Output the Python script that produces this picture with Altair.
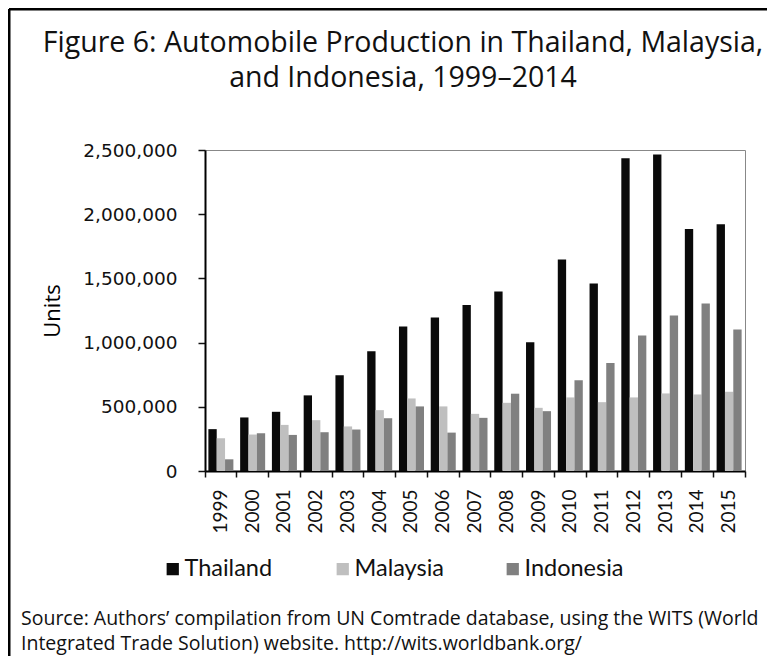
import altair as alt
import pandas as pd

years = [str(y) for y in range(1999, 2016)]
countries = ["Thailand", "Malaysia", "Indonesia"]
colors = ["#0a0a0a", "#bfbfbf", "#808080"]

thailand = [326000, 417000, 461000, 589000, 745000, 932000, 1125000, 1195000, 1292000,
            1398000, 1003000, 1648000, 1461000, 2435000, 2464000, 1885000, 1922000]
malaysia = [255000, 284000, 359000, 396000, 347000, 474000, 565000, 503000, 445000,
            531000, 492000, 573000, 536000, 573000, 604000, 596000, 617000]
indonesia = [91000, 294000, 281000, 302000, 323000, 411000, 503000, 299000, 414000,
             602000, 466000, 706000, 841000, 1055000, 1211000, 1305000, 1102000]

y_ticks = [0, 500000, 1000000, 1500000, 2000000, 2500000]

title_line1 = "Figure 6: Automobile Production in Thailand, Malaysia,"
title_line2 = "and Indonesia, 1999\u20132014"
source_lines = ["Source: Authors\u2019 compilation from UN Comtrade database, using the WITS (World",
                "Integrated Trade Solution) website. http://wits.worldbank.org/"]

rows = []
for i, yr in enumerate(years):
    for c, vals in zip(countries, [thailand, malaysia, indonesia]):
        rows.append({"year": yr, "country": c, "units": vals[i]})
df = pd.DataFrame(rows)

W, H = 540, 321

bars = alt.Chart(df).mark_bar().encode(
    x=alt.X("year:N", sort=years, title=None,
            scale=alt.Scale(paddingInner=0, paddingOuter=0),
            axis=alt.Axis(labelAngle=270, bandPosition=1, tickExtra=True,
                          labelFont="Lato", labelFontSize=19, labelColor="#111",
                          labelPadding=12, tickSize=6, tickColor="#111", tickWidth=1.5,
                          domainColor="#000", domainWidth=2)),
    xOffset=alt.XOffset("country:N", sort=countries,
                        scale=alt.Scale(paddingInner=0, paddingOuter=0.405)),
    y=alt.Y("units:Q", scale=alt.Scale(domain=[0, 2500000], nice=False),
            axis=alt.Axis(values=y_ticks, labelExpr="format(datum.value, ',')",
                          title="Units", grid=False,
                          labelFont="DejaVu Sans", labelFontSize=18.5, labelColor="#111",
                          labelPadding=21, tickSize=7, tickColor="#111", tickWidth=1.5,
                          domainColor="#000", domainWidth=2,
                          titleFont="Open Sans", titleFontSize=22, titleFontWeight="normal",
                          titleColor="#000", titlePadding=18)),
    color=alt.Color("country:N", sort=countries,
                    scale=alt.Scale(domain=countries, range=colors),
                    legend=alt.Legend(title=None, orient="none", legendX=-44, legendY=407,
                                      direction="horizontal", symbolType="square",
                                      symbolSize=150, symbolStrokeWidth=0,
                                      labelFont="Lato", labelFontSize=23.5, labelColor="#111",
                                      labelOffset=0, columnPadding=47, gridAlign="all",
                                      padding=0)),
)

edge = pd.DataFrame({"k": [0]})
border_left = alt.Chart(edge).mark_rule(color="#000", strokeWidth=3).encode(
    x=alt.value(-196), y=alt.value(-141), y2=alt.value(540))
border_top = alt.Chart(edge).mark_rule(color="#000", strokeWidth=3).encode(
    x=alt.value(-196), x2=alt.value(600), y=alt.value(-141))

title1 = alt.Chart(pd.DataFrame({"t": [title_line1]})).mark_text(
    align="center", baseline="alphabetic", font="Open Sans", fontSize=28.5, color="#111"
).encode(x=alt.value(198), y=alt.value(-98), text="t:N")
title2 = alt.Chart(pd.DataFrame({"t": [title_line2]})).mark_text(
    align="center", baseline="alphabetic", font="Open Sans", fontSize=28.5, color="#111"
).encode(x=alt.value(198), y=alt.value(-63), text="t:N")

source = alt.Chart(pd.DataFrame({"t": ["\n".join(source_lines)]})).mark_text(
    align="left", baseline="alphabetic", font="Open Sans", fontSize=19.5, color="#111",
    lineBreak="\n", lineHeight=25
).encode(x=alt.value(-184), y=alt.value(475), text="t:N")

chart = alt.layer(border_left, border_top, bars, title1, title2, source).properties(
    width=W, height=H,
    autosize=alt.AutoSizeParams(type="none"),
    padding={"left": 197, "top": 142, "right": 22, "bottom": 185},
).configure_view(stroke="#888", strokeWidth=1)

chart.save("out.html", embed_options={"renderer": "svg", "actions": False})
